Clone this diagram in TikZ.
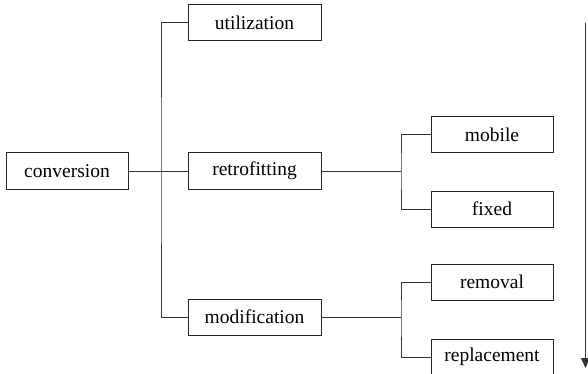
\documentclass[tikz,border=0pt]{standalone}
\usepackage{fontspec}
\setmainfont{Liberation Serif}
\usetikzlibrary{arrows.meta}
\begin{document}
\begin{tikzpicture}[x=1pt,y=-1pt,
  box/.style={draw=black!85, line width=1pt, minimum height=36pt, inner sep=0pt, font=\fontsize{19.5}{22}\selectfont, anchor=center},
  wide/.style={box, minimum width=133pt},
  narrow/.style={box, minimum width=122pt},
  link/.style={draw=black!80, line width=1pt}]
\useasboundingbox (0,0) rectangle (588,374);
\node[narrow] (conv) at (67,171) {conversion};
\node[wide] (util) at (254.5,23) {utilization};
\node[wide] (retro) at (254.5,171) {retrofitting};
\node[wide] (modif) at (254.5,317) {modification};
\node[narrow] (mob) at (492,135) {mobile};
\node[narrow] (fix) at (492,209) {fixed};
\node[narrow] (rem) at (492,282) {removal};
\node[narrow] (rep) at (492,357) {replacement};
\coordinate (j1) at (161,171);
\coordinate (j2) at (401,171);
\coordinate (j3) at (401,317);
\draw[link] (conv.east) -- (retro.west);
\draw[link] (util.west) -| (j1) |- (modif.west);
\draw[link] (retro.east) -- (j2);
\draw[link] (mob.west) -| (j2) |- (fix.west);
\draw[link] (modif.east) -- (j3);
\draw[link] (rem.west) -| (j3) |- (rep.west);
\coordinate (a1) at (585.5,23);
\coordinate (a2) at (585.5,368);
\draw[link, -{Triangle[length=10pt,width=9pt]}] (a1) -- (a2);
\end{tikzpicture}
\end{document}
